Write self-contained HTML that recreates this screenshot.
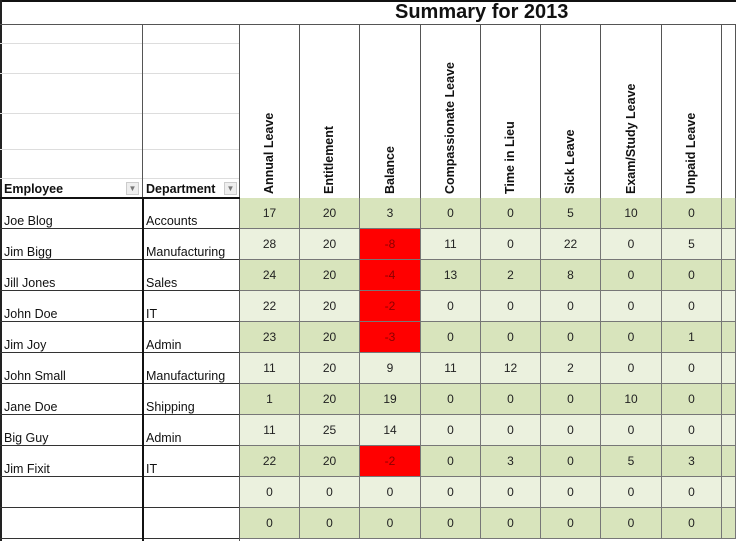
<!DOCTYPE html>
<html><head><style>
body{margin:0;width:736px;height:541px;overflow:hidden;background:#fff;font-family:"Liberation Sans",sans-serif;position:relative}
div{position:absolute;box-sizing:border-box}
.t{font-size:12.5px;color:#111;white-space:nowrap}
.c{font-size:12px;color:#222;text-align:center;line-height:31px}
.v{transform:rotate(-90deg);transform-origin:0 0;font-size:12.5px;font-weight:bold;white-space:nowrap;color:#111}
</style></head><body>
<div style="left:0;top:0;width:736px;height:2px;background:#111"></div>
<div style="left:0;top:0;width:2px;height:541px;background:#222"></div>
<div style="left:395px;top:1px;font-size:20px;font-weight:bold;color:#111">Summary for 2013</div>
<div style="left:0;top:24px;width:736px;height:1px;background:#555"></div>
<div style="left:0;top:43px;width:240px;height:1px;background:#ddd"></div>
<div style="left:0;top:73px;width:240px;height:1px;background:#ddd"></div>
<div style="left:0;top:113px;width:240px;height:1px;background:#ddd"></div>
<div style="left:0;top:149px;width:240px;height:1px;background:#ddd"></div>
<div style="left:0;top:178px;width:240px;height:1px;background:#ddd"></div>
<div id="g"></div>
<script>
var cols=[240,300,360,421,481,541,601,662,722,736];
var heads=["Annual Leave","Entitlement","Balance","Compassionate Leave","Time in Lieu","Sick Leave","Exam/Study Leave","Unpaid Leave",""];
var data=[["Joe Blog","Accounts",17,20,3,0,0,5,10,0],["Jim Bigg","Manufacturing",28,20,-8,11,0,22,0,5],["Jill Jones","Sales",24,20,-4,13,2,8,0,0],["John Doe","IT",22,20,-2,0,0,0,0,0],["Jim Joy","Admin",23,20,-3,0,0,0,0,1],["John Small","Manufacturing",11,20,9,11,12,2,0,0],["Jane Doe","Shipping",1,20,19,0,0,0,10,0],["Big Guy","Admin",11,25,14,0,0,0,0,0],["Jim Fixit","IT",22,20,-2,0,3,0,5,3],["","",0,0,0,0,0,0,0,0],["","",0,0,0,0,0,0,0,0]];
var h="";
var rt=[198,229,260,291,322,353,384,415,446,477,508,539];
for(var r=0;r<11;r++){var y=rt[r],hh=rt[r+1]-y;
 for(var c=0;c<9;c++){var x=cols[c],w=cols[c+1]-x;var val=c<8?data[r][c+2]:"";
  var bg=r%2==0?"#d8e4bc":"#ebf1de";var col="#222";
  if(c==2&&val<0){bg="#ff0000";col="#8b0000";}
  h+='<div class="c" style="left:'+x+'px;top:'+y+'px;width:'+w+'px;height:'+hh+'px;background:'+bg+';color:'+col+';border-right:1px solid #777;border-bottom:1px solid #777">'+val+'</div>';}
 h+='<div class="t" style="left:4px;top:'+(y+16)+'px">'+data[r][0]+'</div>';
 h+='<div class="t" style="left:146px;top:'+(y+16)+'px">'+data[r][1]+'</div>';
 h+='<div style="left:0;top:'+(y+hh-1)+'px;width:240px;height:1px;background:#333"></div>';
}
for(var c=0;c<9;c++){h+='<div style="left:'+(cols[c+1]-1)+'px;top:24px;width:1px;height:174px;background:#555"></div>';
 h+='<div class="v" style="left:'+(cols[c]+(cols[c+1]-cols[c])/2-8)+'px;top:194px">'+heads[c]+'</div>';}
h+='<div style="left:239px;top:24px;width:1px;height:517px;background:#555"></div>';
h+='<div style="left:142px;top:24px;width:1px;height:174px;background:#555"></div>';
h+='<div style="left:142px;top:198px;width:2px;height:343px;background:#111"></div>';
h+='<div style="left:0;top:197px;width:240px;height:2px;background:#111"></div>';
h+='<div class="t" style="left:4px;top:182px;font-weight:bold">Employee</div>';
h+='<div class="t" style="left:146px;top:182px;font-weight:bold">Department</div>';
h+='<div style="left:126px;top:182px;width:13px;height:13px;background:#eee;border:1px solid #ccc;font-size:8px;color:#777;text-align:center;line-height:12px">&#9660;</div>';
h+='<div style="left:224px;top:182px;width:13px;height:13px;background:#eee;border:1px solid #ccc;font-size:8px;color:#777;text-align:center;line-height:12px">&#9660;</div>';
document.getElementById("g").outerHTML=h;
</script>
</body></html>
